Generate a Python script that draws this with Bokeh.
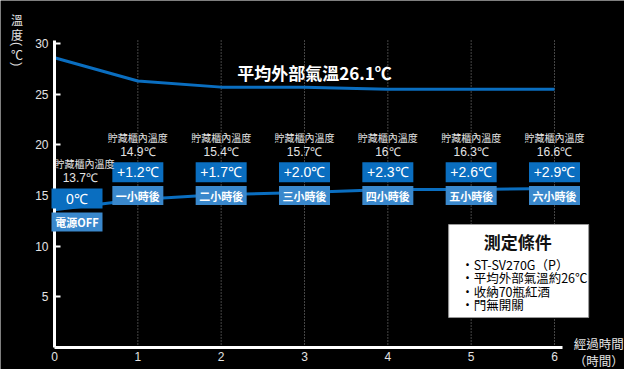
import math
from bokeh.plotting import figure
from bokeh.models import FixedTicker, ColumnDataSource
from bokeh.core.properties import value
from bokeh.embed import file_html
from bokeh.resources import INLINE

# ---- data ----
hours = [0, 1, 2, 3, 4, 5, 6]
outside_temp = [28.6, 26.3, 25.7, 25.7, 25.5, 25.5, 25.5]
inside_temp = [13.6, 14.6, 15.1, 15.3, 15.6, 15.6, 15.7]
inside_labels = ["13.7℃", "14.9℃", "15.4℃", "15.7℃", "16℃", "16.3℃", "16.6℃"]
rise_labels = ["0℃", "+1.2℃", "+1.7℃", "+2.0℃", "+2.3℃", "+2.6℃", "+2.9℃"]
time_labels = ["電源OFF", "一小時後", "二小時後", "三小時後", "四小時後", "五小時後", "六小時後"]
y_ticks = [5, 10, 15, 20, 25, 30]
x_ticks = [0, 1, 2, 3, 4, 5, 6]
title_text = "平均外部氣溫26.1℃"
legend_title = "測定條件"
legend_items = ["·ST-SV270G（P）", "·平均外部氣溫約26℃", "·收納70瓶紅酒", "·門無開關"]
x_title = ["經過時間", "（時間）"]
y_title_chars = ["溫", "度"]
y_unit = ["(", "℃", ")"]

CJK = "Noto Sans CJK TC"
LAT = "Liberation Sans"
DARK = "#0a6ec0"
LIGHT = "#3a88cc"
TXT = "#e4e4e4"

p = figure(width=624, height=369, output_backend="svg", toolbar_location=None,
           x_range=(-0.648, 6.84), y_range=(-2.17, 34.25),
           min_border=0,
           background_fill_color="black", border_fill_color="black", outline_line_color=None)
p.grid.visible = False

# axes, pinned at data 0 inside the frame
for ax in (p.xaxis, p.yaxis):
    ax.fixed_location = 0
    ax.axis_line_color = "white"
    ax.axis_line_width = 3
    ax.major_tick_line_color = "white"
    ax.major_tick_line_width = 2
    ax.minor_tick_line_color = None
    ax.major_label_text_color = TXT
    ax.major_label_text_font = LAT
    ax.major_label_text_font_size = "12px"
p.xaxis.ticker = FixedTicker(ticks=x_ticks)
p.yaxis.ticker = FixedTicker(ticks=y_ticks)
p.xaxis.bounds = (0, 6.1)
p.yaxis.bounds = (0, 30.3)
p.xaxis.major_tick_in = 0
p.xaxis.major_tick_out = 0
p.xaxis.major_label_standoff = 4
p.yaxis.major_tick_in = 6
p.yaxis.major_tick_out = 0
p.yaxis.major_label_standoff = 6

# dotted vertical grid
gx = x_ticks[1:]
p.segment(x0=gx, y0=[0] * len(gx), x1=gx, y1=[30.3] * len(gx),
          line_color="#8a8a8a", line_width=1, line_dash="1 2")

# lines
p.line(hours, outside_temp, line_color=DARK, line_width=3)
p.line(hours, inside_temp, line_color=DARK, line_width=3)

# annotation positions
box_x = [h + (0.27 if h == 0 else 0.0) for h in hours]
dark_y = [14.7 if h == 0 else 17.3 for h in hours]
light_y = [12.4 if h == 0 else 15.0 for h in hours]
head_y = [18.2 if h == 0 else 20.7 for h in hours]
val_y = [16.7 if h == 0 else 19.25 for h in hours]
head_x = [h + (0.36 if h == 0 else 0.0) for h in hours]
val_x = [h + (0.31 if h == 0 else 0.0) for h in hours]

src = ColumnDataSource(dict(bx=box_x, dy=dark_y, ly=light_y, hy=head_y, vy=val_y,
                            hx=head_x, vx=val_x,
                            rise=rise_labels, tl=time_labels, val=inside_labels,
                            head=["貯藏櫃內溫度"] * len(hours)))
p.rect(x="bx", y="dy", width=51, height=20, width_units="screen", height_units="screen",
       fill_color=DARK, line_color=None, source=src, level="overlay")
p.rect(x="bx", y="ly", width=51, height=19, width_units="screen", height_units="screen",
       fill_color=LIGHT, line_color=None, source=src, level="overlay")
p.text(x="bx", y="dy", text="rise", source=src, text_color="white", text_font=value(LAT),
       text_font_size="14px", text_align="center", text_baseline="middle", level="overlay")
p.text(x="bx", y="ly", text="tl", source=src, text_color="white", text_font=value(CJK),
       text_font_size="11px", text_font_style="bold", text_align="center",
       text_baseline="middle", level="overlay")
p.text(x="hx", y="hy", text="head", source=src, text_color=TXT, text_font=value(CJK),
       text_font_size="10px", text_align="center", text_baseline="middle", level="overlay")
p.text(x="vx", y="vy", text="val", source=src, text_color=TXT, text_font=value(LAT),
       text_font_size="12px", text_align="center", text_baseline="middle", level="overlay")

# title over outside line
p.text(x=[3.12], y=[27.15], text=[title_text], text_color="white", text_font=value(CJK),
       text_font_size="17px", text_font_style="bold", text_align="center", text_baseline="middle")

# legend box
p.quad(left=[4.73], right=[6.41], top=[12.14], bottom=[2.96],
       fill_color="white", line_color="#9a9a9a", line_width=1)
p.text(x=[5.56], y=[10.5], text=[legend_title], text_color="#111111", text_font=value(CJK),
       text_font_size="17px", text_font_style="bold", text_align="center", text_baseline="middle")
leg_y = [8.2, 6.9, 5.55, 4.25]
p.text(x=[4.88] * len(legend_items), y=leg_y, text=legend_items, text_color="#000000",
       text_font=value(CJK), text_font_size="12.5px", text_align="left", text_baseline="middle")

# x axis title
p.text(x=[6.53, 6.53], y=[0.39, -1.28], text=x_title, text_color=TXT,
       text_font=value(CJK), text_font_size="12.5px", text_align="center", text_baseline="middle")

# y axis title, stacked vertically
p.text(x=[-0.45, -0.45], y=[32.38, 30.9], text=y_title_chars, text_color=TXT,
       text_font=value(CJK), text_font_size="12px", text_align="center", text_baseline="middle")
p.text(x=[-0.45], y=[28.92], text=[y_unit[1]], text_color=TXT,
       text_font=value(CJK), text_font_size="12px", text_align="center", text_baseline="middle")
p.text(x=[-0.45, -0.45], y=[29.95, 27.95], text=[y_unit[0], y_unit[2]], angle=-math.pi / 2,
       text_color=TXT, text_font=value(LAT), text_font_size="12px",
       text_align="center", text_baseline="middle")

open("out.html", "w").write(file_html(p, INLINE))
